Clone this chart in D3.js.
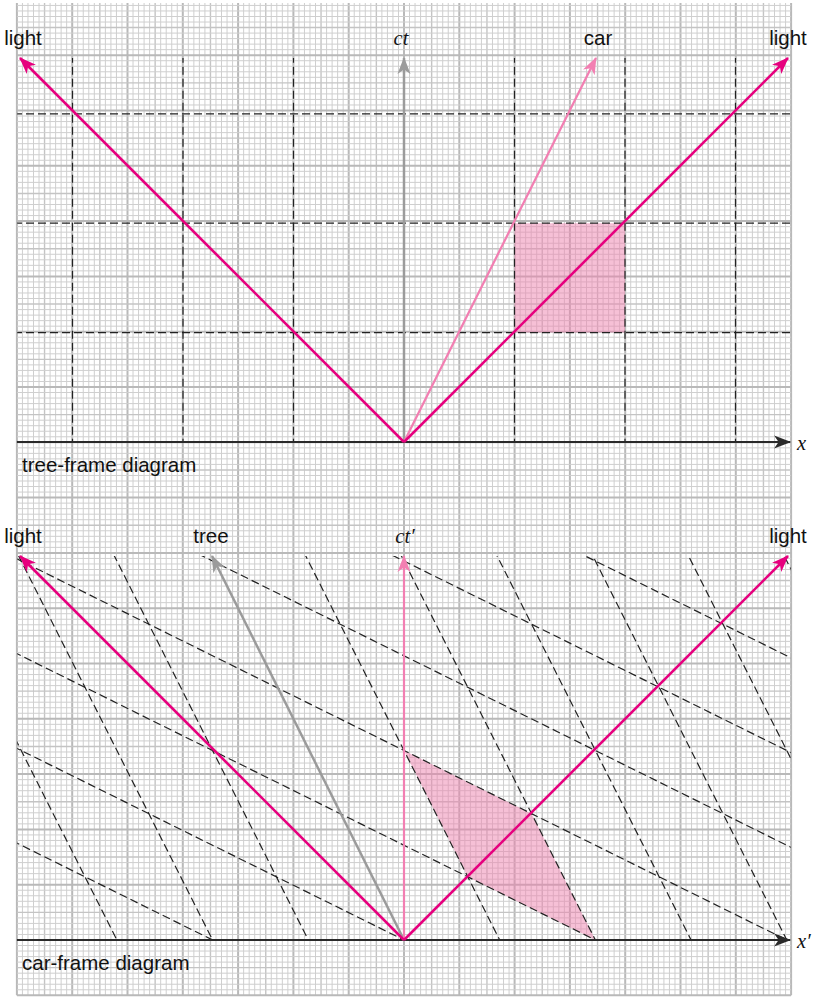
<!DOCTYPE html>
<html>
<head>
<meta charset="utf-8">
<script src="https://cdn.jsdelivr.net/npm/d3@7"></script>
<style>
  body { margin: 0; background: #fff; }
  text { font-family: "Liberation Sans", Arial, sans-serif; font-size: 20.5px; fill: #111; }
  .math { font-family: "Liberation Serif", "Times New Roman", serif; font-style: italic; }
</style>
</head>
<body>
<div id="chart"></div>
<script>
// speeds (fraction of c)
var carBeta = 0.5;
var treeBeta = 0;
var lightBetas = [-1, 1];

// tree-frame coordinate lines (units of the big grid)
var treeXLines = [-3, -2, -1, 1, 2, 3, 4, 5, 6];
var treeTLines = [-1, 0, 1, 2, 3, 4, 5];

// shaded square, tree-frame coords
var boxX = [1, 2];
var boxT = [1, 2];

// extent of each diagram
var xExtent = [-3.5, 3.5];
var tTop = 3.51;

var W = 813, H = 997;
var Ux = 110.5, Uy = 109.4;  // px per unit
var cell = 5.53;             // graph paper cell
var cx = 404;
var panels = [
  { oy: 442, frame: "tree", title: "tree-frame diagram", tLabel: "ct", xLabel: "x" },
  { oy: 940, frame: "car",  title: "car-frame diagram",  tLabel: "ct\u2032", xLabel: "x\u2032" }
];

var gamma = 1 / Math.sqrt(1 - carBeta * carBeta);
function toCar(p) {
  return [gamma * (p[0] - carBeta * p[1]), gamma * (p[1] - carBeta * p[0])];
}

var svg = d3.select("#chart").append("svg")
  .attr("width", W)
  .attr("height", H);

var defs = svg.append("defs");
function marker(id, color) {
  defs.append("marker")
    .attr("id", id)
    .attr("viewBox", "-18 -8 20 16")
    .attr("refX", 0).attr("refY", 0)
    .attr("markerWidth", 20).attr("markerHeight", 16)
    .attr("markerUnits", "userSpaceOnUse")
    .attr("orient", "auto")
    .append("path")
    .attr("d", "M1,0 L-16,-6.5 L-11.5,0 L-16,6.5 Z")
    .attr("fill", color);
}
var cLight = "#e6007e", cCar = "#f27fb2", cGray = "#9b9b9b", cAxis = "#2a2a2a";
marker("mLight", cLight);
marker("mCar", cCar);
marker("mGray", cGray);
marker("mAxis", cAxis);

var xScale = d3.scaleLinear().domain(xExtent).range([cx + xExtent[0] * Ux, cx + xExtent[1] * Ux]);

// ---- graph paper ----
var gridTop = 3, gridBot = 940 + 10 * cell;
var gridL = cx - 70 * cell, gridR = cx + 70 * cell;
var paper = svg.append("g").attr("class", "paper");
function gridStyle(sel, i) {
  if (i % 10 === 0) sel.attr("stroke", "#b9b9b9").attr("stroke-width", 2);
  else if (i % 5 === 0) sel.attr("stroke", "#c4c4c4").attr("stroke-width", 1.4);
  else sel.attr("stroke", "#cfcfcf").attr("stroke-width", 1);
}
d3.range(-70, 71).forEach(function(i) {
  var x = cx + i * cell;
  paper.append("line").attr("x1", x).attr("x2", x).attr("y1", gridTop).attr("y2", gridBot)
    .call(gridStyle, Math.abs(i));
});
d3.range(-170, 11).forEach(function(j) {
  var y = 940 + j * cell;
  if (y < gridTop) return;
  paper.append("line").attr("x1", gridL).attr("x2", gridR)
    .attr("y1", y).attr("y2", y)
    .call(gridStyle, Math.abs(j));
});

panels.forEach(function(p, k) {
  var yScale = d3.scaleLinear().domain([0, tTop]).range([p.oy, p.oy - tTop * Uy]);
  var tf = p.frame === "car" ? toCar : function(q) { return q; };
  var pt = function(q) { var r = tf(q); return [xScale(r[0]), yScale(r[1])]; };

  var clipId = "clip" + k;
  defs.append("clipPath").attr("id", clipId).append("rect")
    .attr("x", xScale(xExtent[0])).attr("y", yScale(tTop))
    .attr("width", xScale(xExtent[1]) - xScale(xExtent[0]))
    .attr("height", yScale(0) - yScale(tTop));

  var g = svg.append("g");
  var clipped = g.append("g").attr("clip-path", "url(#" + clipId + ")");

  // shaded box
  var corners = [[boxX[0], boxT[0]], [boxX[1], boxT[0]], [boxX[1], boxT[1]], [boxX[0], boxT[1]]];
  clipped.append("path")
    .attr("d", d3.line()(corners.map(pt)) + "Z")
    .attr("fill", "#ed81ad")
    .attr("fill-opacity", 0.5);

  // tree-frame coordinate lines
  var dashed = clipped.append("g")
    .attr("stroke", "#222").attr("stroke-width", 1.2)
    .attr("stroke-dasharray", "8,4").attr("fill", "none");
  treeXLines.forEach(function(x) {
    var a = pt([x, -12]), b = pt([x, 12]);
    dashed.append("line").attr("x1", a[0]).attr("y1", a[1]).attr("x2", b[0]).attr("y2", b[1]);
  });
  treeTLines.forEach(function(t) {
    if (p.frame === "tree" && t === 0) return;
    var a = pt([-12, t]), b = pt([12, t]);
    dashed.append("line").attr("x1", a[0]).attr("y1", a[1]).attr("x2", b[0]).attr("y2", b[1]);
  });

  // world lines, drawn in the frame of this diagram
  function ray(beta, color, mk, width) {
    g.append("line")
      .attr("x1", xScale(0)).attr("y1", yScale(0))
      .attr("x2", xScale(beta * tTop * Uy / Ux)).attr("y2", yScale(tTop))
      .attr("stroke", color).attr("stroke-width", width)
      .attr("marker-end", "url(#" + mk + ")");
  }
  var carB = p.frame === "tree" ? carBeta : 0;
  var treeB = p.frame === "tree" ? treeBeta : -carBeta;

  // x axis
  g.append("line")
    .attr("x1", gridL).attr("y1", yScale(0))
    .attr("x2", gridR - 1).attr("y2", yScale(0))
    .attr("stroke", cAxis).attr("stroke-width", 2)
    .attr("marker-end", "url(#mAxis)");

  ray(treeB, cGray, "mGray", 2.5);
  ray(carB, cCar, "mCar", 2.2);
  lightBetas.forEach(function(b) { ray(b, cLight, "mLight", 2.6); });

  // labels
  var ly = yScale(tTop) - 13;
  lightBetas.forEach(function(b) {
    g.append("text").attr("x", xScale(b * tTop * Uy / Ux) + (b < 0 ? 3 : 0)).attr("y", ly)
      .attr("text-anchor", "middle").text("light");
  });
  g.append("text").attr("class", "math").attr("x", xScale(0) - 3 + (k ? 4 : 0)).attr("y", ly)
    .attr("text-anchor", "middle").text(p.tLabel);
  if (p.frame === "tree") {
    g.append("text").attr("x", xScale(carB * tTop * Uy / Ux) + 2).attr("y", ly)
      .attr("text-anchor", "middle").text("car");
  } else {
    g.append("text").attr("x", xScale(treeB * tTop * Uy / Ux) - 1).attr("y", ly)
      .attr("text-anchor", "middle").text("tree");
  }
  g.append("text").attr("class", "math").attr("x", gridR + 6).attr("y", yScale(0) + 8)
    .text(p.xLabel);
  g.append("text").attr("x", 22).attr("y", yScale(0) + 30).text(p.title);
});
</script>
</body>
</html>
